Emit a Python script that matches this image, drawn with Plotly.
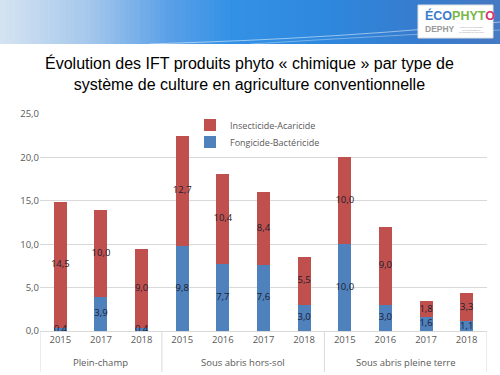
import plotly.graph_objects as go

groups = ["Plein-champ", "Sous abris hors-sol", "Sous abris pleine terre"]
group_sizes = [3, 4, 4]
years = ["2015", "2017", "2018", "2015", "2016", "2017", "2018", "2015", "2016", "2017", "2018"]
fongicide = [0.4, 3.9, 0.4, 9.8, 7.7, 7.6, 3.0, 10.0, 3.0, 1.6, 1.1]
insecticide = [14.5, 10.0, 9.0, 12.7, 10.4, 8.4, 5.5, 10.0, 9.0, 1.8, 3.3]
y_ticks = [0, 5, 10, 15, 20, 25]

W, H = 500, 375
L, R, T, B = 40, 13, 114, 44
PW, PH = W - L - R, H - T - B


def px_x(x):
    return (x - L) / PW


def px_y(y):
    return (H - B - y) / PH


def fmt(v):
    return f"{v:.1f}".replace(".", ",")


idx = list(range(len(years)))

fig = go.Figure()
fig.add_trace(go.Bar(x=idx, y=fongicide, name="Fongicide-Bactéricide", legend="legend2",
                     marker=dict(color="#4f81bd", line=dict(width=0)), hoverinfo="skip"))
fig.add_trace(go.Bar(x=idx, y=insecticide, name="Insecticide-Acaricide", legend="legend",
                     marker=dict(color="#c0504d", line=dict(width=0)), hoverinfo="skip"))

mid_f = [v / 2 for v in fongicide]
mid_i = [f + v / 2 for f, v in zip(fongicide, insecticide)]
lab_font = dict(size=9.5, color="#1c1c30", family="Open Sans")
fig.add_trace(go.Scatter(x=idx, y=mid_f, mode="text", text=[fmt(v) for v in fongicide],
                         textfont=lab_font, showlegend=False, hoverinfo="skip"))
fig.add_trace(go.Scatter(x=idx, y=mid_i, mode="text", text=[fmt(v) for v in insecticide],
                         textfont=lab_font, showlegend=False, hoverinfo="skip"))

shapes = []
# banner gradient
stops = [(0, (214, 228, 242)), (90, (165, 200, 236)), (170, (90, 160, 232)),
         (230, (52, 146, 230)), (330, (46, 136, 222)), (420, (56, 124, 206)), (500, (70, 122, 196))]
N = 100
for i in range(N):
    xa = W * i / N
    xb = W * (i + 1) / N
    xm = (xa + xb) / 2
    for j in range(len(stops) - 1):
        if stops[j][0] <= xm <= stops[j + 1][0]:
            t = (xm - stops[j][0]) / (stops[j + 1][0] - stops[j][0])
            c = tuple(int(stops[j][1][k] + t * (stops[j + 1][1][k] - stops[j][1][k])) for k in range(3))
            break
    shapes.append(dict(type="rect", xref="paper", yref="paper", x0=px_x(xa), x1=px_x(xb + 0.5),
                       y0=px_y(44), y1=px_y(0), fillcolor=f"rgb{c}", line=dict(width=0), layer="below"))
# light streaks in banner
shapes.append(dict(type="path", xref="paper", yref="paper",
                   path=f"M {px_x(150)} {px_y(44)} Q {px_x(350)} {px_y(38)} {px_x(500)} {px_y(22)}",
                   line=dict(color="rgba(255,255,255,0.5)", width=1.2)))
shapes.append(dict(type="path", xref="paper", yref="paper",
                   path=f"M {px_x(250)} {px_y(44)} Q {px_x(380)} {px_y(36)} {px_x(500)} {px_y(30)}",
                   line=dict(color="rgba(255,255,255,0.35)", width=1)))
# logo box
shapes.append(dict(type="rect", xref="paper", yref="paper", x0=px_x(418), x1=px_x(493),
                   y0=px_y(38), y1=px_y(5), fillcolor="white", line=dict(color="#e0e0e0", width=1)))

# group dividers below the axis
bounds = [-0.5]
for s in group_sizes:
    bounds.append(bounds[-1] + s)
for b in bounds:
    shapes.append(dict(type="line", xref="x", yref="paper", x0=b, x1=b, y0=px_y(372), y1=0,
                       line=dict(color="#d9d9d9", width=1)))

annotations = [
    dict(text="Évolution des IFT produits phyto « chimique » par type de<br>système de culture en agriculture conventionnelle",
         x=px_x(249), y=px_y(73), xref="paper", yref="paper", showarrow=False,
         font=dict(family="Liberation Sans, Arial", size=16, color="black"),
         xanchor="center", yanchor="middle"),
    dict(text="<b><span style='color:#3d7cc9'>ÉCO</span><span style='color:#7ab648'>PHYT</span><span style='color:#d6336c'>O</span></b>",
         x=px_x(423), y=px_y(16), xref="paper", yref="paper", showarrow=False,
         font=dict(family="Liberation Sans", size=12.5),
         xanchor="left", yanchor="middle"),
    dict(text="<b>DEPHY</b>", x=px_x(423), y=px_y(29), xref="paper", yref="paper", showarrow=False,
         font=dict(family="Liberation Sans", size=8.5, color="#9a9a9a"),
         xanchor="left", yanchor="middle"),
    dict(text="Réseau de démonstration<br>d'expérimentation et<br>de production de références", x=px_x(457), y=px_y(29),
         xref="paper", yref="paper", showarrow=False,
         font=dict(family="Liberation Sans", size=2, color="#9a9a9a"), xanchor="left", yanchor="middle"),
]
start = 0
for g, s in zip(groups, group_sizes):
    annotations.append(dict(text=g, x=start + (s - 1) / 2, y=px_y(362), xref="x", yref="paper",
                            showarrow=False, font=dict(family="Open Sans", size=9.5, color="#595959"),
                            xanchor="center", yanchor="middle"))
    start += s

leg_common = dict(xanchor="left", yanchor="middle", bgcolor="rgba(0,0,0,0)",
                  font=dict(family="Open Sans", size=9, color="#595959"), itemwidth=30)
fig.update_layout(
    width=W, height=H,
    margin=dict(l=L, r=R, t=T, b=B),
    paper_bgcolor="white", plot_bgcolor="white",
    barmode="stack", bargap=0.68,
    separators=", ",
    shapes=shapes, annotations=annotations,
    showlegend=True,
    legend=dict(x=px_x(190), y=px_y(125), **leg_common),
    legend2=dict(x=px_x(190), y=px_y(142), **leg_common),
    font=dict(family="Open Sans", size=9, color="#595959"),
)
fig.update_yaxes(range=[0, 25], tickvals=y_ticks, tickformat=".1f", showgrid=True,
                 gridcolor="#d9d9d9", gridwidth=1, zeroline=False, showline=False,
                 ticks="", tickfont=dict(size=9.5, color="#595959"), fixedrange=True)
fig.update_xaxes(range=[-0.5, len(years) - 0.5], tickvals=idx, ticktext=years, showline=True,
                 linecolor="#d9d9d9", linewidth=1, showgrid=False, zeroline=False, ticks="",
                 tickfont=dict(size=9.5, color="#595959"), fixedrange=True)

fig.write_html("out.html", config={"displayModeBar": False},
               post_script="document.body.style.margin='0';")
